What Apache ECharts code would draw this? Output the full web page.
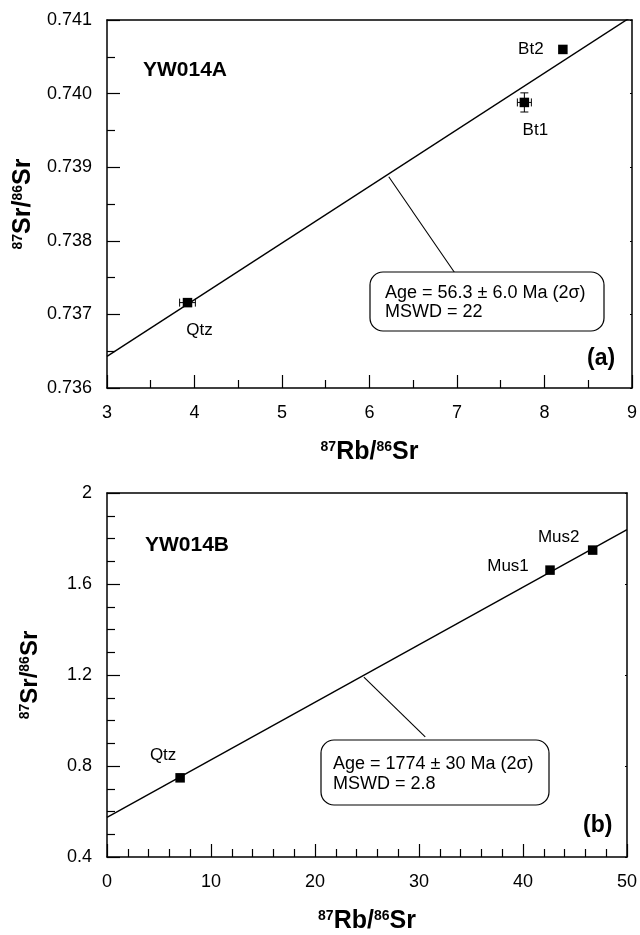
<!DOCTYPE html>
<html><head><meta charset="utf-8">
<script src="https://cdn.jsdelivr.net/npm/echarts@6/dist/echarts.min.js"></script>
<style>html,body{margin:0;padding:0;background:#fff}#c{width:640px;height:935px}</style>
</head><body><div id="c"></div>
<script>
// ---- Panel (a) YW014A ----
const samplesA = ['Qtz', 'Bt1', 'Bt2'];
const rbSrA = [3.92, 7.77, 8.21];
const srSrA = [0.73716, 0.73988, 0.74060];
const rbErrA = [0.09, 0.08, 0];
const srErrA = [0, 0.00013, 0];
const isoLineA_x = [3, 9];
const isoLineA_y = [0.73643, 0.74105];
const leaderA_x = [6.22, 6.97];
const leaderA_y = [0.73887, 0.737572];
const xTicksA = [3, 4, 5, 6, 7, 8, 9];
const yTicksA = [0.736, 0.737, 0.738, 0.739, 0.740, 0.741];
const annotA = ['Age = 56.3 \u00b1 6.0 Ma (2\u03c3)', 'MSWD = 22'];

// ---- Panel (b) YW014B ----
const samplesB = ['Qtz', 'Mus1', 'Mus2'];
const rbSrB = [7.03, 42.6, 46.7];
const srSrB = [0.748, 1.661, 1.749];
const isoLineB_x = [0, 50];
const isoLineB_y = [0.574, 1.839];
const leaderB_x = [24.7, 30.6];
const leaderB_y = [1.191, 0.928];
const xTicksB = [0, 10, 20, 30, 40, 50];
const yTicksB = [0.4, 0.8, 1.2, 1.6, 2.0];
const annotB = ['Age = 1774 \u00b1 30 Ma (2\u03c3)', 'MSWD = 2.8'];

const FONT = '"Liberation Sans", Arial, sans-serif';
const chart = echarts.init(document.getElementById('c'), null, {renderer: 'canvas'});

const nameRich = (big) => ({
  b: {fontSize: big, fontWeight: 'bold', fontFamily: FONT, color: '#000'},
  s: {fontSize: Math.round(big * 0.58), fontWeight: 'bold', fontFamily: FONT, color: '#000', padding: [0, 0, Math.round(big * 0.42), 0]}
});

function mainX(grid, ticks, minorSplit, name) {
  return {
    gridIndex: grid, type: 'value', min: ticks[0], max: ticks[ticks.length - 1],
    interval: ticks[1] - ticks[0],
    axisLine: {show: true, lineStyle: {color: '#000', width: 1.5}},
    axisTick: {show: true, inside: true, length: 13, lineStyle: {color: '#000', width: 1.2}},
    minorTick: {show: true, splitNumber: minorSplit, length: 8, lineStyle: {color: '#000', width: 1.2}},
    splitLine: {show: false},
    axisLabel: {color: '#000', fontSize: 18, fontFamily: FONT, margin: 16},
    name: name, nameLocation: 'middle', nameGap: 52,
    nameTextStyle: {rich: nameRich(25)}
  };
}
function mainY(grid, ticks, minorSplit, dec, name, big, gap) {
  return {
    gridIndex: grid, type: 'value', min: ticks[0], max: ticks[ticks.length - 1],
    interval: +(ticks[1] - ticks[0]).toFixed(6),
    axisLine: {show: true, lineStyle: {color: '#000', width: 1.5}},
    axisTick: {show: true, inside: true, length: 13, lineStyle: {color: '#000', width: 1.2}},
    minorTick: {show: true, splitNumber: minorSplit, length: 8, lineStyle: {color: '#000', width: 1.2}},
    splitLine: {show: false},
    axisLabel: {color: '#000', fontSize: 18, fontFamily: FONT, margin: 15,
      formatter: v => dec === null ? String(+v.toFixed(2)) : v.toFixed(dec)},
    name: name, nameLocation: 'middle', nameGap: gap, nameRotate: 90,
    nameTextStyle: {rich: nameRich(big)}
  };
}
function sideAxis(kind, grid, ticks, pos) {
  return {
    gridIndex: grid, type: 'value', position: pos, min: ticks[0], max: ticks[ticks.length - 1],
    interval: +(ticks[1] - ticks[0]).toFixed(6),
    axisLine: {show: true, onZero: false, lineStyle: {color: '#000', width: 1.5}},
    axisTick: {show: kind === 'y', inside: true, length: 2, lineStyle: {color: '#000', width: 1}},
    axisLabel: {show: false}, splitLine: {show: false}
  };
}

function errRender(params, api) {
  const x = api.value(0), y = api.value(1), xe = api.value(2), ye = api.value(3);
  const kids = [];
  const cap = 4;
  const st = {stroke: '#000', lineWidth: 1};
  if (xe > 0) {
    const a = api.coord([x - xe, y]), b = api.coord([x + xe, y]);
    kids.push({type: 'line', shape: {x1: a[0], y1: a[1], x2: b[0], y2: b[1]}, style: st});
    kids.push({type: 'line', shape: {x1: a[0], y1: a[1] - cap, x2: a[0], y2: a[1] + cap}, style: st});
    kids.push({type: 'line', shape: {x1: b[0], y1: b[1] - cap, x2: b[0], y2: b[1] + cap}, style: st});
  }
  if (ye > 0) {
    const a = api.coord([x, y - ye]), b = api.coord([x, y + ye]);
    kids.push({type: 'line', shape: {x1: a[0], y1: a[1], x2: b[0], y2: b[1]}, style: st});
    kids.push({type: 'line', shape: {x1: a[0] - cap, y1: a[1], x2: a[0] + cap, y2: a[1]}, style: st});
    kids.push({type: 'line', shape: {x1: b[0] - cap, y1: b[1], x2: b[0] + cap, y2: b[1]}, style: st});
  }
  return {type: 'group', children: kids};
}

const offA = {Qtz: [12, 28], Bt1: [11, 28], Bt2: [-32, 0]};
const offB = {Qtz: [-17, -23], Mus1: [-42, -4], Mus2: [-34, -13]};

function pts(names, xs, ys, off) {
  return names.map((n, i) => ({
    value: [xs[i], ys[i]], name: n,
    label: {show: true, formatter: n, position: 'inside', offset: off[n], color: '#000', opacity: 1, fontSize: 17, fontFamily: FONT}
  }));
}
const pair = (xs, ys) => xs.map((x, i) => [x, ys[i]]);
const lineStyle = (w) => ({color: '#000', width: w});

const option = {
  animation: false,
  backgroundColor: '#fff',
  grid: [
    {left: 107, right: 7, top: 20, height: 368},
    {left: 107, right: 7, top: 493, height: 368}
  ],
  xAxis: [
    mainX(0, xTicksA, 2, '{s|87}{b|Rb/}{s|86}{b|Sr}'),
    sideAxis('x', 0, xTicksA, 'top'),
    mainX(1, xTicksB, 5, '{s|87}{b|Rb/}{s|86}{b|Sr}'),
    sideAxis('x', 1, xTicksB, 'top')
  ],
  yAxis: [
    mainY(0, yTicksA, 2, 3, '{s|87}{b|Sr/}{s|86}{b|Sr}', 25, 70),
    sideAxis('y', 0, yTicksA, 'right'),
    mainY(1, yTicksB, 4, null, '{s|87}{b|Sr/}{s|86}{b|Sr}', 24, 65),
    sideAxis('y', 1, yTicksB, 'right')
  ],
  series: [
    {type: 'line', xAxisIndex: 0, yAxisIndex: 0, data: pair(isoLineA_x, isoLineA_y), symbol: 'none', lineStyle: lineStyle(1.4), clip: true, silent: true},
    {type: 'line', xAxisIndex: 0, yAxisIndex: 0, data: pair(leaderA_x, leaderA_y), symbol: 'none', lineStyle: lineStyle(1.1), silent: true},
    {type: 'custom', xAxisIndex: 0, yAxisIndex: 0, renderItem: errRender,
      data: rbSrA.map((x, i) => [x, srSrA[i], rbErrA[i], srErrA[i]]), silent: true, z: 3},
    {type: 'scatter', xAxisIndex: 0, yAxisIndex: 0, symbol: 'rect', symbolSize: 9.5,
      itemStyle: {color: '#000', opacity: 1}, data: pts(samplesA, rbSrA, srSrA, offA), z: 4},

    {type: 'line', xAxisIndex: 2, yAxisIndex: 2, data: pair(isoLineB_x, isoLineB_y), symbol: 'none', lineStyle: lineStyle(1.4), clip: true, silent: true},
    {type: 'line', xAxisIndex: 2, yAxisIndex: 2, data: pair(leaderB_x, leaderB_y), symbol: 'none', lineStyle: lineStyle(1.1), silent: true},
    {type: 'scatter', xAxisIndex: 2, yAxisIndex: 2, symbol: 'rect', symbolSize: 9.5,
      itemStyle: {color: '#000', opacity: 1}, data: pts(samplesB, rbSrB, srSrB, offB), z: 4}
  ],
  graphic: [
    {type: 'text', left: 143, top: 60, style: {text: 'YW014A', font: 'bold 21px ' + FONT, fill: '#000'}},
    {type: 'text', left: 587, top: 347, style: {text: '(a)', font: 'bold 23px ' + FONT, fill: '#000'}},
    {type: 'rect', shape: {x: 370, y: 272, width: 234, height: 59, r: 13}, style: {fill: '#fff', stroke: '#000', lineWidth: 1.2}, z: 10},
    {type: 'text', x: 385, y: 284, style: {text: annotA.join('\n'), font: '18px ' + FONT, lineHeight: 19, fill: '#000'}, z: 11},

    {type: 'text', left: 145, top: 535, style: {text: 'YW014B', font: 'bold 21px ' + FONT, fill: '#000'}},
    {type: 'text', left: 583, top: 814, style: {text: '(b)', font: 'bold 23px ' + FONT, fill: '#000'}},
    {type: 'rect', shape: {x: 321, y: 740, width: 228, height: 65, r: 13}, style: {fill: '#fff', stroke: '#000', lineWidth: 1.2}, z: 10},
    {type: 'text', x: 333, y: 754, style: {text: annotB.join('\n'), font: '18px ' + FONT, lineHeight: 20, fill: '#000'}, z: 11}
  ]
};
chart.setOption(option);
</script>
</body></html>
